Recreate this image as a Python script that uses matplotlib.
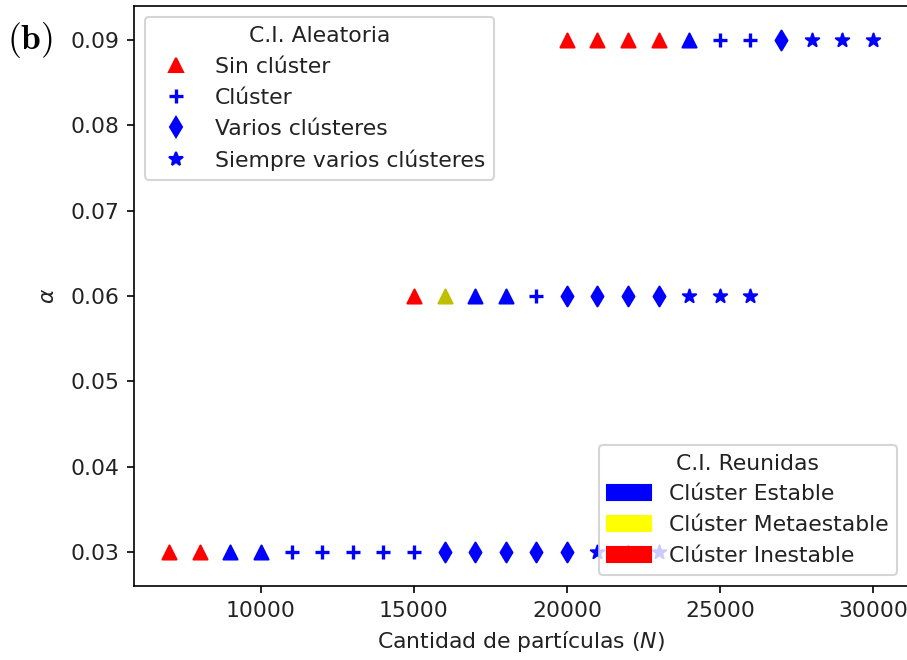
import matplotlib.pyplot as plt
import matplotlib.patches as mpatches
from matplotlib.lines import Line2D

# Datos: N, marcador (C.I. aleatoria) y color (C.I. reunidas) para cada alpha
alphas = [0.03, 0.06, 0.09]

N_003 = [7000, 8000, 9000, 10000, 11000, 12000, 13000, 14000, 15000,
         16000, 17000, 18000, 19000, 20000, 21000, 22000, 23000]
mk_003 = ['^', '^', '^', '^', '+', '+', '+', '+', '+',
          'd', 'd', 'd', 'd', 'd', '*', '*', '*']
col_003 = ['r', 'r', 'b', 'b', 'b', 'b', 'b', 'b', 'b',
           'b', 'b', 'b', 'b', 'b', 'b', 'b', 'b']

N_006 = [15000, 16000, 17000, 18000, 19000, 20000, 21000, 22000, 23000,
         24000, 25000, 26000]
mk_006 = ['^', '^', '^', '^', '+', 'd', 'd', 'd', 'd', '*', '*', '*']
col_006 = ['r', 'y', 'b', 'b', 'b', 'b', 'b', 'b', 'b', 'b', 'b', 'b']

N_009 = [20000, 21000, 22000, 23000, 24000, 25000, 26000, 27000,
         28000, 29000, 30000]
mk_009 = ['^', '^', '^', '^', '^', '+', '+', 'd', '*', '*', '*']
col_009 = ['r', 'r', 'r', 'r', 'b', 'b', 'b', 'b', 'b', 'b', 'b']

filas = [(N_003, mk_003, col_003), (N_006, mk_006, col_006), (N_009, mk_009, col_009)]

plt.rcParams['font.size'] = 10.5
plt.rcParams['text.color'] = '#222222'
plt.rcParams['axes.labelcolor'] = '#222222'
plt.rcParams['xtick.labelcolor'] = '#222222'
plt.rcParams['ytick.labelcolor'] = '#222222'

fig = plt.figure(figsize=(907 / 150, 660 / 150), dpi=150)
# el eje derecho queda justo fuera de la imagen, como en el original recortado
ax = fig.add_axes([134 / 907, 0.1121, 774 / 907, 0.8788])

for a, (Ns, mks, cols) in zip(alphas, filas):
    for n, m, c in zip(Ns, mks, cols):
        ax.scatter(n, a, marker=m, color=c, s=45, linewidths=1.6 if m == '+' else 1.0)

ax.set_ylim(0.026, 0.094)
ax.set_xlim(5850, 31150)
ax.set_xlabel('Cantidad de partículas ($N$)')
ax.set_ylabel(r'$\alpha$', labelpad=6)

# Leyenda de C.I. aleatoria
h1 = [Line2D([], [], ls='none', marker='^', color='r', markersize=6.7),
      Line2D([], [], ls='none', marker='+', color='b', markersize=6.7, markeredgewidth=1.6),
      Line2D([], [], ls='none', marker='d', color='b', markersize=6.7),
      Line2D([], [], ls='none', marker='*', color='b', markersize=6.7)]
l1 = ax.legend(h1, ['Sin clúster', 'Clúster', 'Varios clústeres', 'Siempre varios clústeres'],
               title='C.I. Aleatoria', loc='upper left')
ax.add_artist(l1)

# Leyenda de C.I. reunidas
h2 = [mpatches.Patch(color='b'), mpatches.Patch(color='#ffff00'), mpatches.Patch(color='r')]
ax.legend(h2, ['Clúster Estable', 'Clúster Metaestable', 'Clúster Inestable'],
          title='C.I. Reunidas', loc='lower right')

fig.text(0.033, 0.939, r'$\mathbf{(b)}$', fontsize=17, math_fontfamily='cm',
         color='black', ha='center', va='center')

fig.savefig('out.png', dpi=150)
